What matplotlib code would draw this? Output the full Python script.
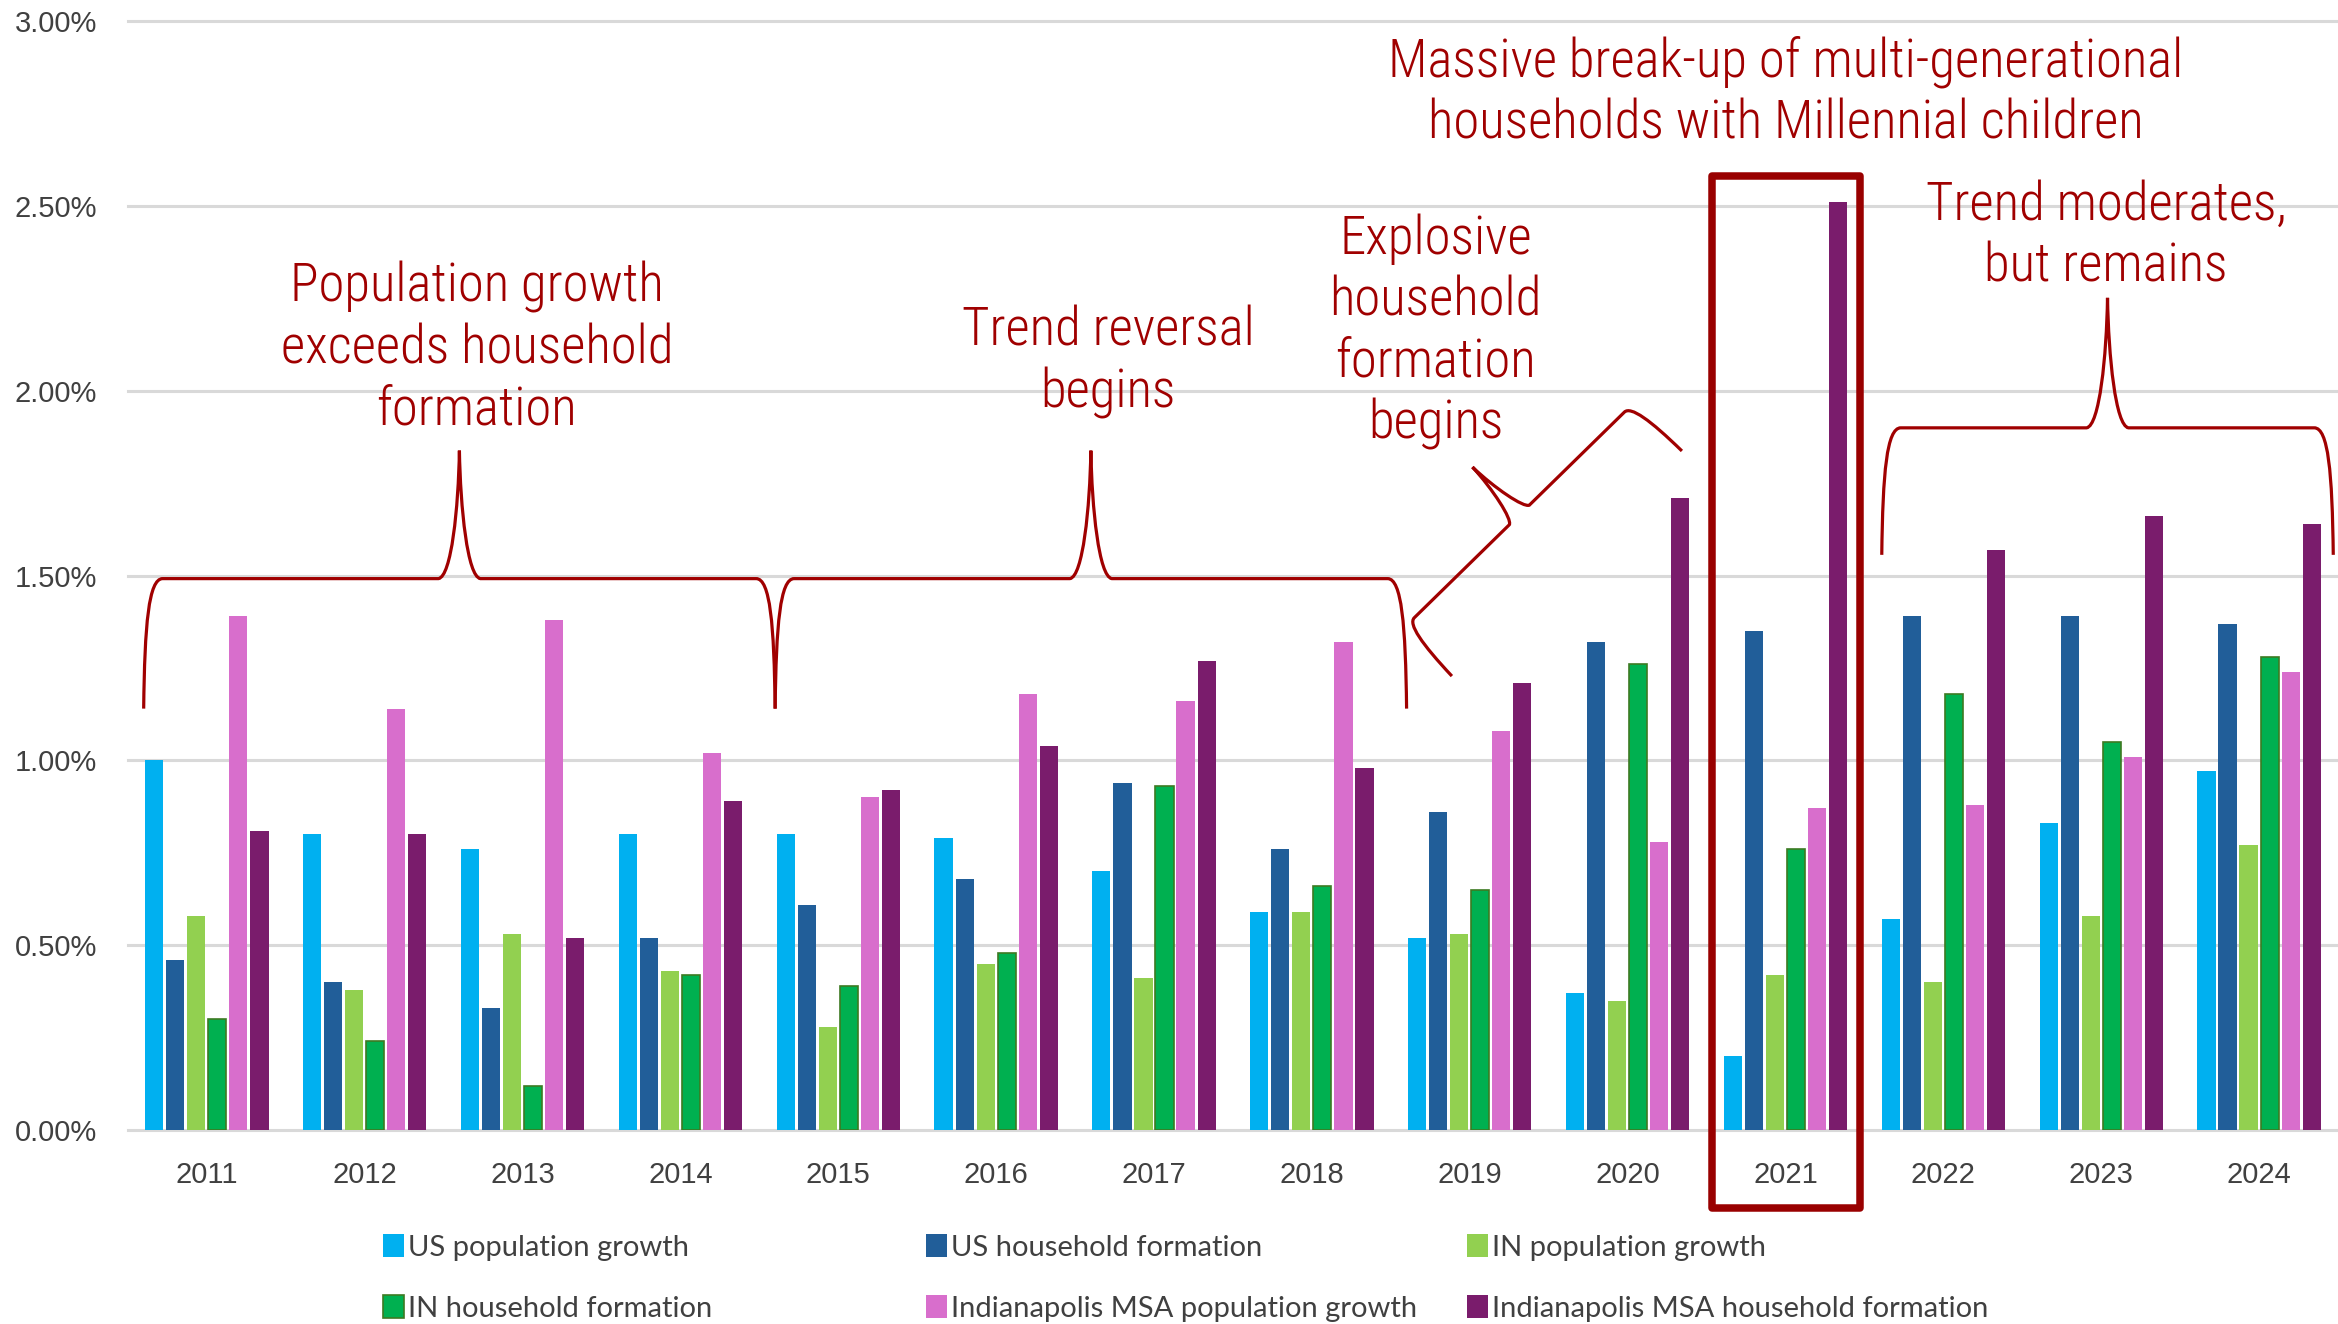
import numpy as np
import matplotlib
matplotlib.use("Agg")
import matplotlib.pyplot as plt
from matplotlib.path import Path
from matplotlib.patches import PathPatch, Rectangle
from matplotlib.transforms import IdentityTransform
from matplotlib import font_manager as fm

years = ["2011", "2012", "2013", "2014", "2015", "2016", "2017",
         "2018", "2019", "2020", "2021", "2022", "2023", "2024"]

us_pop = [1.00, 0.80, 0.76, 0.80, 0.80, 0.79, 0.70, 0.59, 0.52, 0.37, 0.20, 0.57, 0.83, 0.97]
us_hh = [0.46, 0.40, 0.33, 0.52, 0.61, 0.68, 0.94, 0.76, 0.86, 1.32, 1.35, 1.39, 1.39, 1.37]
in_pop = [0.58, 0.38, 0.53, 0.43, 0.28, 0.45, 0.41, 0.59, 0.53, 0.35, 0.42, 0.40, 0.58, 0.77]
in_hh = [0.30, 0.24, 0.12, 0.42, 0.39, 0.48, 0.93, 0.66, 0.65, 1.26, 0.76, 1.18, 1.05, 1.28]
msa_pop = [1.39, 1.14, 1.38, 1.02, 0.90, 1.18, 1.16, 1.32, 1.08, 0.78, 0.87, 0.88, 1.01, 1.24]
msa_hh = [0.81, 0.80, 0.52, 0.89, 0.92, 1.04, 1.27, 0.98, 1.21, 1.71, 2.51, 1.57, 1.66, 1.64]

series_names = ["US population growth", "US household formation", "IN population growth",
                "IN household formation", "Indianapolis MSA population growth",
                "Indianapolis MSA household formation"]
series_colors = ["#00B0F0", "#215E99", "#92D050", "#00B050", "#D86ECC", "#7A1C6C"]

yticks = [0.0, 0.5, 1.0, 1.5, 2.0, 2.5, 3.0]

avail = {f.name for f in fm.fontManager.ttflist}
def pick(*names):
    for n in names:
        if n in avail:
            return n
    return None

# look for some condensed face for the callouts
narrow = pick("Roboto Condensed", "Liberation Sans Narrow", "Open Sans Condensed",
              "Noto Sans Condensed", "DejaVu Sans Condensed", "Arial Narrow")
narrow_stretch = "normal"
if narrow is None:
    for f in fm.fontManager.ttflist:
        if f.stretch in ("condensed", "semi-condensed", 600) and f.style == "normal" \
                and f.weight in (400, "normal", "regular"):
            narrow = f.name
            narrow_stretch = f.stretch
            break
if narrow is None:
    narrow = pick("Roboto", "Lato") or "DejaVu Sans"
    callout_size = 35
else:
    callout_size = 38

axisfont = pick("Liberation Sans", "Arimo") or "DejaVu Sans"
legfont = pick("Lato", "Open Sans") or "DejaVu Sans"

RED = "#A00000"
GREY = "#404040"

fig = plt.figure(figsize=(23.38, 13.24), dpi=100)
ax = fig.add_axes([0.0547, 0.1465, 0.9453, 0.8376])

x = np.arange(len(years))
step = 0.1333
width = 0.115
data = [us_pop, us_hh, in_pop, in_hh, msa_pop, msa_hh]
handles = []
for i, (vals, c) in enumerate(zip(data, series_colors)):
    off = (i - 2.5) * step
    if i == 3:
        b = ax.bar(x + off, vals, width, color=c, edgecolor="#3D7A22", linewidth=1.2, zorder=3)
    else:
        b = ax.bar(x + off, vals, width, color=c, linewidth=0, zorder=3)
    handles.append(b)

ax.set_xlim(-0.5, len(years) - 0.5)
ax.set_ylim(0, 3.0)
ax.set_yticks(yticks)
ax.set_yticklabels(["%.2f%%" % t for t in yticks], fontsize=21, color=GREY, family=axisfont)
ax.set_xticks(x)
ax.set_xticklabels(years, fontsize=21, color=GREY, family=axisfont)
ax.tick_params(axis="both", length=0)
ax.tick_params(axis="y", pad=22)
ax.tick_params(axis="x", pad=22)
for s in ax.spines.values():
    s.set_visible(False)
ax.grid(axis="y", color="#D9D9D9", linewidth=2.2, zorder=0)
ax.set_axisbelow(True)
for gl in ax.get_ygridlines():
    gl.set_clip_on(False)

# legend: three columns placed like Excel
order = [[0, 3], [1, 4], [2, 5]]
col_x = [383 / 2338, 926 / 2338, 1467 / 2338]
for cols, cx in zip(order, col_x):
    fig.legend([handles[k] for k in cols], [series_names[k] for k in cols],
               loc="upper left", bbox_to_anchor=(cx, 0.068), frameon=False,
               borderpad=0, borderaxespad=0, handlelength=0.72, handleheight=0.85,
               handletextpad=0.15, labelspacing=1.18,
               prop={"family": legfont, "size": 21}, labelcolor=GREY)


def brace(p0, p1, h1, h2, r1=19, r2=21):
    a = ax.transData.transform(p0)
    b = ax.transData.transform(p1)
    d = b - a
    L = np.hypot(*d)
    u = d / L
    v = np.array([-u[1], u[0]])
    m = L / 2
    loc = [(0, 0), (1, 0.65 * h1), (5, h1), (r1, h1),
           (m - r2, h1),
           (m - 8, h1 + 2), (m - 1, h1 + 0.55 * h2), (m, h1 + h2),
           (m + 1, h1 + 0.55 * h2), (m + 8, h1 + 2), (m + r2, h1),
           (L - r1, h1),
           (L - 5, h1), (L - 1, 0.65 * h1), (L, 0)]
    codes = [Path.MOVETO, Path.CURVE4, Path.CURVE4, Path.CURVE4, Path.LINETO,
             Path.CURVE4, Path.CURVE4, Path.CURVE4, Path.CURVE4, Path.CURVE4, Path.CURVE4,
             Path.LINETO, Path.CURVE4, Path.CURVE4, Path.CURVE4]
    pts = [a + px * u + py * v for px, py in loc]
    fig.add_artist(PathPatch(Path(pts, codes), transform=IdentityTransform(),
                             fill=False, edgecolor=RED, linewidth=2.3, capstyle="butt"))


brace((-0.40, 1.14), (3.60, 1.14), 130, 128)
brace((3.60, 1.14), (7.60, 1.14), 130, 128)
brace((7.887, 1.228), (9.344, 1.837), 68, 67, r1=14, r2=14)
brace((10.61, 1.556), (13.47, 1.556), 127, 130)

# highlight 2021
i21 = years.index("2021")
ax.add_patch(Rectangle((i21 - 0.463, -0.211), 0.938, 2.791, fill=False,
                       edgecolor="#990000", linewidth=5.4, joinstyle="round",
                       clip_on=False, zorder=5))

tkw = dict(color=RED, fontsize=callout_size, family=narrow, fontstretch=narrow_stretch,
           fontweight="light", ha="center", va="center", multialignment="center",
           linespacing=1.25)
ax.text(1.71, 2.115, "Population growth\nexceeds household\nformation", **tkw)
ax.text(5.71, 2.077, "Trend reversal\nbegins", **tkw)
ax.text(7.785, 2.16, "Explosive\nhousehold\nformation\nbegins", **tkw)
ax.text(10.0, 2.806, "Massive break-up of multi-generational\nhouseholds with Millennial children", **tkw)
ax.text(12.03, 2.42, "Trend moderates,\nbut remains", **tkw)

fig.savefig("out.png", dpi=100)
